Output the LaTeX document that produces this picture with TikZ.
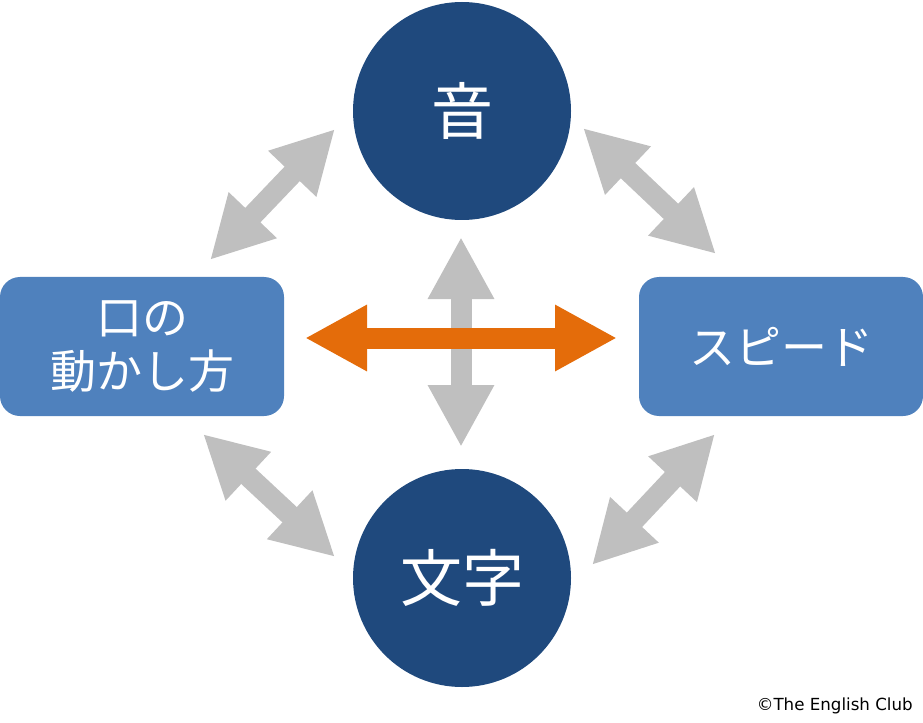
\documentclass[tikz,border=0pt]{standalone}
\usepackage{fontspec}
\newfontfamily\jpfont{Noto Sans CJK JP}
\newfontfamily\notefont{DejaVu Sans}
\usetikzlibrary{arrows.meta,positioning}
\definecolor{circleblue}{HTML}{1F497D}
\definecolor{boxblue}{HTML}{4F81BD}
\definecolor{arrowgray}{HTML}{BFBFBF}
\definecolor{arroworange}{HTML}{E46C0A}

\begin{document}
\begin{tikzpicture}[x=0.75pt,y=-0.75pt,
  topic/.style={circle,fill=circleblue,minimum size=163.5pt,inner sep=0pt,text=white,font=\jpfont\fontsize{46.5}{50}\selectfont},
  skill/.style={rectangle,rounded corners=15pt,fill=boxblue,minimum width=213pt,minimum height=104.25pt,inner sep=0pt,text=white,align=center,font=\jpfont\fontsize{34.5}{41}\selectfont},
  bigtip/.tip={Triangle[length=46.5pt,width=46.5pt]},
  link/.style={line width=15.75pt,bigtip-bigtip},
  graylink/.style={link,draw=arrowgray,fill=arrowgray},
  orangelink/.style={link,draw=arroworange,fill=arroworange}]
\useasboundingbox (0,0) rectangle (923,723);
\node[topic] (sound) at (462,111) {音};
\node[topic] (letters) at (462,578) {文字};
\node[skill] (mouth) at (142,346.5) {口の\\動かし方};
\node[skill] (speed) at (781,346.5) {スピード};
% arrow tips
\coordinate (ul1) at (210,260); \coordinate (ul2) at (335,129);
\coordinate (ur1) at (583,128); \coordinate (ur2) at (716,254);
\coordinate (ll1) at (203,434); \coordinate (ll2) at (335,557);
\coordinate (lr1) at (715,434); \coordinate (lr2) at (592,565);
\coordinate (vt) at (461,237); \coordinate (vb) at (461,447);
\coordinate (hl) at (305,338); \coordinate (hr) at (617,338);
\draw[graylink] (ul1) -- (ul2);
\draw[graylink] (ur1) -- (ur2);
\draw[graylink] (ll1) -- (ll2);
\draw[graylink] (lr1) -- (lr2);
\draw[graylink] (vt) -- (vb);
\draw[orangelink] (hl) -- (hr);
\node[anchor=east,inner sep=0pt,font=\notefont\fontsize{12.5}{13}\selectfont] (credit) at (913,706) {©The English Club};
\end{tikzpicture}
\end{document}
